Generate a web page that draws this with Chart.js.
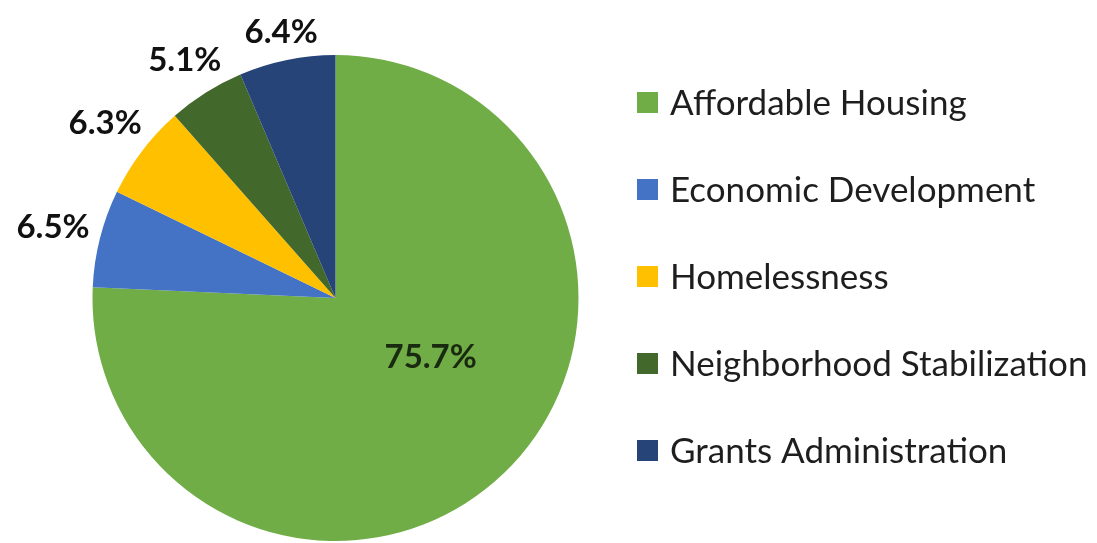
<!DOCTYPE html>
<html>
<head>
<meta charset="utf-8">
<script src="https://cdn.jsdelivr.net/npm/chart.js@4.4.1/dist/chart.umd.min.js"></script>
<style>
  html, body { margin: 0; padding: 0; background: #ffffff; }
  #wrap { width: 1097px; height: 543px; position: relative; }
</style>
</head>
<body>
<div id="wrap"><canvas id="c"></canvas></div>
<script>
const categories = ["Affordable Housing", "Economic Development", "Homelessness", "Neighborhood Stabilization", "Grants Administration"];
const shares = [75.7, 6.5, 6.3, 5.1, 6.4];
const valueLabels = ["75.7%", "6.5%", "6.3%", "5.1%", "6.4%"];
const sliceColors = ["#70AD47", "#4472C4", "#FFC000", "#43682B", "#264478"];

const FONT = "Lato, 'Open Sans', sans-serif";

const labelPlugin = {
  id: 'sliceLabels',
  afterDatasetsDraw(chart) {
    const ctx = chart.ctx;
    const meta = chart.getDatasetMeta(0);
    ctx.save();
    ctx.font = "bold 33px " + FONT;
    ctx.textAlign = 'center';
    ctx.textBaseline = 'middle';
    meta.data.forEach((arc, i) => {
      const p = arc.getProps(['x', 'y', 'startAngle', 'endAngle', 'outerRadius'], true);
      const mid = (p.startAngle + p.endAngle) / 2;
      let x, y;
      if (shares[i] > 50) {
        const a = mid - 0.255;
        const d = p.outerRadius * 0.46;
        x = p.x + Math.cos(a) * d;
        y = p.y + Math.sin(a) * d;
        ctx.fillStyle = '#1a2a10';
      } else {
        const w = ctx.measureText(valueLabels[i]).width;
        const h = 24;
        const c = Math.cos(mid), s = Math.sin(mid);
        const d = p.outerRadius + 10 + Math.abs(c) * w / 2 + Math.abs(s) * h / 2;
        x = p.x + c * d;
        y = p.y + s * d;
        ctx.fillStyle = '#111111';
      }
      ctx.fillText(valueLabels[i], x, y + 1);
    });
    ctx.restore();
  }
};

const legendPlugin = {
  id: 'sideLegend',
  afterDraw(chart) {
    const ctx = chart.ctx;
    const x0 = 637, y0 = 102.5, step = 87, box = 21;
    ctx.save();
    ctx.font = "35px " + FONT;
    ctx.textAlign = 'left';
    ctx.textBaseline = 'middle';
    chart.data.labels.forEach((lab, i) => {
      const y = y0 + i * step;
      ctx.fillStyle = chart.data.datasets[0].backgroundColor[i];
      ctx.fillRect(x0, y - box / 2, box, box);
      ctx.fillStyle = '#1e1e1e';
      ctx.fillText(lab, x0 + 33, y + 1);
    });
    ctx.restore();
  }
};

new Chart(document.getElementById('c'), {
  type: 'pie',
  data: {
    labels: categories,
    datasets: [{
      data: shares,
      backgroundColor: sliceColors,
      borderWidth: 0
    }]
  },
  options: {
    responsive: true,
    maintainAspectRatio: false,
    animation: false,
    layout: { padding: { left: 92, right: 518, top: 55, bottom: 2 } },
    plugins: {
      legend: { display: false },
      tooltip: { enabled: false }
    }
  },
  plugins: [labelPlugin, legendPlugin]
});
</script>
</body>
</html>
